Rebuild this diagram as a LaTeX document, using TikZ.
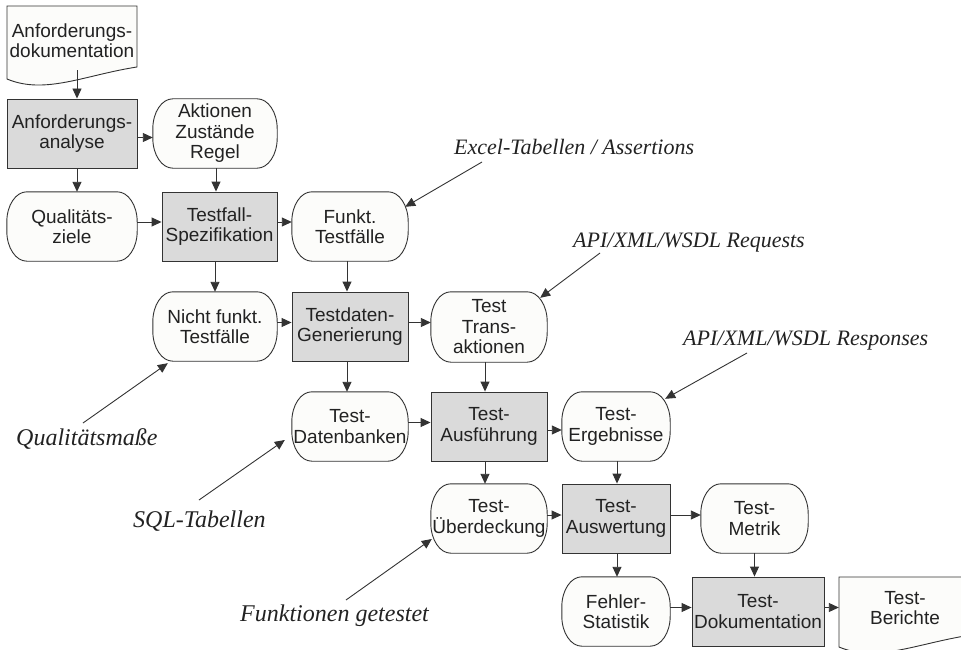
\documentclass[tikz,border=0pt]{standalone}
\usepackage{fontspec}
\setmainfont{Liberation Serif}
\setsansfont{Liberation Sans}
\usetikzlibrary{arrows.meta,calc,backgrounds}
\definecolor{boxgray}{HTML}{DADADA}
\definecolor{pale}{HTML}{FCFCFA}
\definecolor{ink}{HTML}{333333}
\definecolor{txt}{HTML}{222222}
\begin{document}
\begin{tikzpicture}[x=1pt,y=-1pt,
  every node/.style={font=\sffamily\fontsize{19}{20.5}\selectfont, text=txt, align=center, inner sep=0pt},
  proc/.style={draw=ink, fill=boxgray, line width=0.9pt},
  store/.style={},
  storeline/.style={draw=ink, fill=pale, line width=0.9pt},
  docshape/.style={draw=ink, fill=pale, line width=0.9pt},
  arr/.style={draw=ink, line width=0.9pt, -{Triangle[length=10pt,width=9pt]}},
  note/.style={font=\itshape\fontsize{#1}{#1}\selectfont, text=txt, anchor=base west},
]
\useasboundingbox (0,0) rectangle (961,650);
\clip (0,0) rectangle (961,650);

% document shapes
\draw[docshape] (7,6) -- (137,6) -- (137,67) .. controls (85,75) and (45,95) .. (7,79) -- cycle;
\draw[docshape] (839,577) -- (971,577) -- (971,635) .. controls (918,643) and (877,663) .. (839,647) -- cycle;

% nodes
\node[minimum width=130pt, minimum height=69pt] (doc1) at (72,40.5) {Anforderungs-\\dokumentation};
\node[proc, minimum width=130pt, minimum height=69pt] (ana) at (72,133.5) {Anforderungs-\\analyse};
\node[store, minimum width=124pt, minimum height=69pt] (akt) at (215,133.5) {Aktionen\\Zustände\\Regel};
\node[store, minimum width=130pt, minimum height=69pt] (qz) at (72,226.5) {Qualitäts-\\ziele};
\node[proc, minimum width=115pt, minimum height=69pt] (tfs) at (219.5,226.5) {Testfall-\\Spezifikation};
\node[store, minimum width=116pt, minimum height=69pt] (ftf) at (350,226.5) {Funkt.\\Testfälle};
\node[store, minimum width=124pt, minimum height=69pt] (nft) at (215,326.5) {Nicht funkt.\\Testfälle};
\node[proc, minimum width=116pt, minimum height=69pt] (tdg) at (350,326.5) {Testdaten-\\Generierung};
\node[store, minimum width=116pt, minimum height=70pt] (tta) at (489,327) {Test\\Trans-\\aktionen};
\node[store, minimum width=116pt, minimum height=69pt] (tdb) at (350,426.5) {Test-\\Datenbanken};
\node[proc, minimum width=116pt, minimum height=69pt] (tau) at (489,426.5) {Test-\\Ausführung};
\node[store, minimum width=108pt, minimum height=69pt] (ter) at (616,426.5) {Test-\\Ergebnisse};
\node[store, minimum width=116pt, minimum height=69pt] (tue) at (489,518.5) {Test-\\Überdeckung};
\node[proc, minimum width=108pt, minimum height=69pt] (taw) at (616,518.5) {Test-\\Auswertung};
\node[store, minimum width=107pt, minimum height=69pt] (tme) at (754.5,518.5) {Test-\\Metrik};
\node[store, minimum width=108pt, minimum height=69pt] (fst) at (616,611.5) {Fehler-\\Statistik};
\node[proc, minimum width=132pt, minimum height=69pt] (tdo) at (758,611.5) {Test-\\Dokumentation};
\node[minimum width=132pt, minimum height=70pt] (tbe) at (905,608) {Test-\\Berichte};

% stadium outlines behind the data nodes
\begin{scope}[on background layer]
\foreach \n in {akt,qz,ftf,nft,tta,tdb,ter,tue,tme,fst}{
  \draw[storeline] ($(\n.north west)+(20,0)$) -- ($(\n.north east)+(-20,0)$)
    arc[start angle=90,end angle=0,x radius=20pt,y radius=30pt]
    -- ($(\n.south east)+(0,-30)$)
    arc[start angle=0,end angle=-90,x radius=20pt,y radius=30pt]
    -- ($(\n.south west)+(20,0)$)
    arc[start angle=-90,end angle=-180,x radius=20pt,y radius=30pt]
    -- ($(\n.north west)+(0,30)$)
    arc[start angle=180,end angle=90,x radius=20pt,y radius=30pt]
    -- cycle;
}
\end{scope}

% annotation labels
\node[note=22] (lexcel) at (454,154) {Excel-Tabellen / Assertions};
\node[note=22] (lreq) at (573,247) {API/XML/WSDL Requests};
\node[note=22] (lresp) at (683,345) {API/XML/WSDL Responses};
\node[note=24] (lqual) at (16,445) {Qualitätsmaße};
\node[note=24] (lsql) at (133,527) {SQL-Tabellen};
\node[note=24] (lfun) at (240,621) {Funktionen getestet};

\coordinate (cexcel) at (482,162);
\coordinate (creq) at (600,253);
\coordinate (cresp) at (747,353);
\coordinate (cqual) at (83,423);
\coordinate (csql) at (199,500);
\coordinate (cfun) at (346,600);

% flow connectors
\draw[arr] ([xshift=5pt,yshift=5pt]doc1.south) -- ([xshift=5pt]ana.north);
\draw[arr] ([yshift=-4pt]ana.east) -- ([yshift=-4pt]ana.east -| akt.west);
\draw[arr] ([xshift=5pt]ana.south) -- ([xshift=5pt]qz.north);
\draw[arr] ([xshift=1pt]akt.south) -- ([xshift=1pt]akt.south |- tfs.north);
\draw[arr] ([yshift=4.5pt]qz.east) -- ([yshift=4.5pt]qz.east -| tfs.west);
\draw[arr] ([yshift=4.5pt]tfs.east) -- ([yshift=4.5pt]tfs.east -| ftf.west);
\draw[arr] (nft.north |- tfs.south) -- (nft.north);
\draw[arr] ([xshift=-3pt]ftf.south) -- ([xshift=-3pt]tdg.north);
\draw[arr] ([yshift=4pt]nft.east) -- ([yshift=4pt]nft.east -| tdg.west);
\draw[arr] ([yshift=4pt]tdg.east) -- ([yshift=4pt]tdg.east -| tta.west);
\draw[arr] ([xshift=-3pt]tdg.south) -- ([xshift=-3pt]tdb.north);
\draw[arr] ([xshift=-4pt]tta.south) -- ([xshift=-4pt]tau.north);
\draw[arr] ([yshift=4pt]tdb.east) -- ([yshift=4pt]tdb.east -| tau.west);
\draw[arr] ([yshift=-3.5pt]tau.east) -- ([yshift=-3.5pt]tau.east -| ter.west);
\draw[arr] ([xshift=-4pt]tau.south) -- ([xshift=-4pt]tue.north);
\draw[arr] ([xshift=1pt]ter.south) -- ([xshift=1pt]taw.north);
\draw[arr] ([yshift=3.5pt]tue.east) -- ([yshift=3.5pt]tue.east -| taw.west);
\draw[arr] ([yshift=3.5pt]taw.east) -- ([yshift=3.5pt]taw.east -| tme.west);
\draw[arr] ([xshift=1pt]taw.south) -- ([xshift=1pt]fst.north);
\draw[arr] (tme.south) -- (tme.south |- tdo.north);
\draw[arr] ([yshift=4pt]fst.east) -- ([yshift=4pt]fst.east -| tdo.west);
\draw[arr] ([yshift=4pt]tdo.east) -- ([yshift=4pt]tdo.east -| tbe.west);

% annotation connectors
\draw[arr] (cexcel) -- ($(ftf.north east)+(-3,15)$);
\draw[arr] (creq) -- ($(tta.north east)+(-7,6)$);
\draw[arr] (cresp) -- ($(ter.north east)+(-5,7)$);
\draw[arr] (cqual) -- ($(nft.south west)+(15,2)$);
\draw[arr] (csql) -- ($(tdb.west)+(-7,13.5)$);
\draw[arr] (cfun) -- ($(tue.west)+(1,20.5)$);
\end{tikzpicture}
\end{document}
